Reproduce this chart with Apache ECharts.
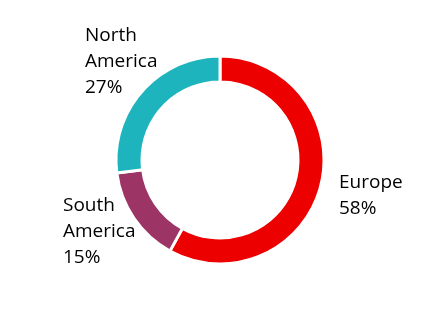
<!DOCTYPE html>
<html><head><meta charset="utf-8">
<script src="https://cdn.jsdelivr.net/npm/echarts@6/dist/echarts.min.js"></script>
<style>html,body{margin:0;padding:0;background:#fff}#c{width:440px;height:320px}</style>
</head><body><div id="c"></div>
<script>
const categories = ["Europe", "South America", "North America"];
const values = [58, 15, 27];
const colors = ["#EC0000", "#9C3566", "#1DB4BD"];
const labelPos = [[339, 170], [63, 193], [85, 23]];

const chart = echarts.init(document.getElementById('c'), null, {renderer: 'canvas'});
chart.setOption({
  animation: false,
  series: [{
    type: 'pie',
    center: [220, 160],
    radius: [78, 104],
    startAngle: 90,
    clockwise: true,
    avoidLabelOverlap: false,
    data: categories.map((c, i) => ({name: c, value: values[i], itemStyle: {color: colors[i]}})),
    itemStyle: {borderColor: '#fff', borderWidth: 3},
    label: {
      show: true,
      position: 'outside',
      formatter: p => p.name.replace(' ', '\n') + '\n' + p.value + '%',
      fontFamily: 'Open Sans',
      fontSize: 19,
      lineHeight: 26,
      color: '#000'
    },
    labelLine: {show: false},
    labelLayout: p => ({x: labelPos[p.dataIndex][0], y: labelPos[p.dataIndex][1], align: 'left', verticalAlign: 'top'}),
    emphasis: {disabled: true}
  }]
});
</script></body></html>
